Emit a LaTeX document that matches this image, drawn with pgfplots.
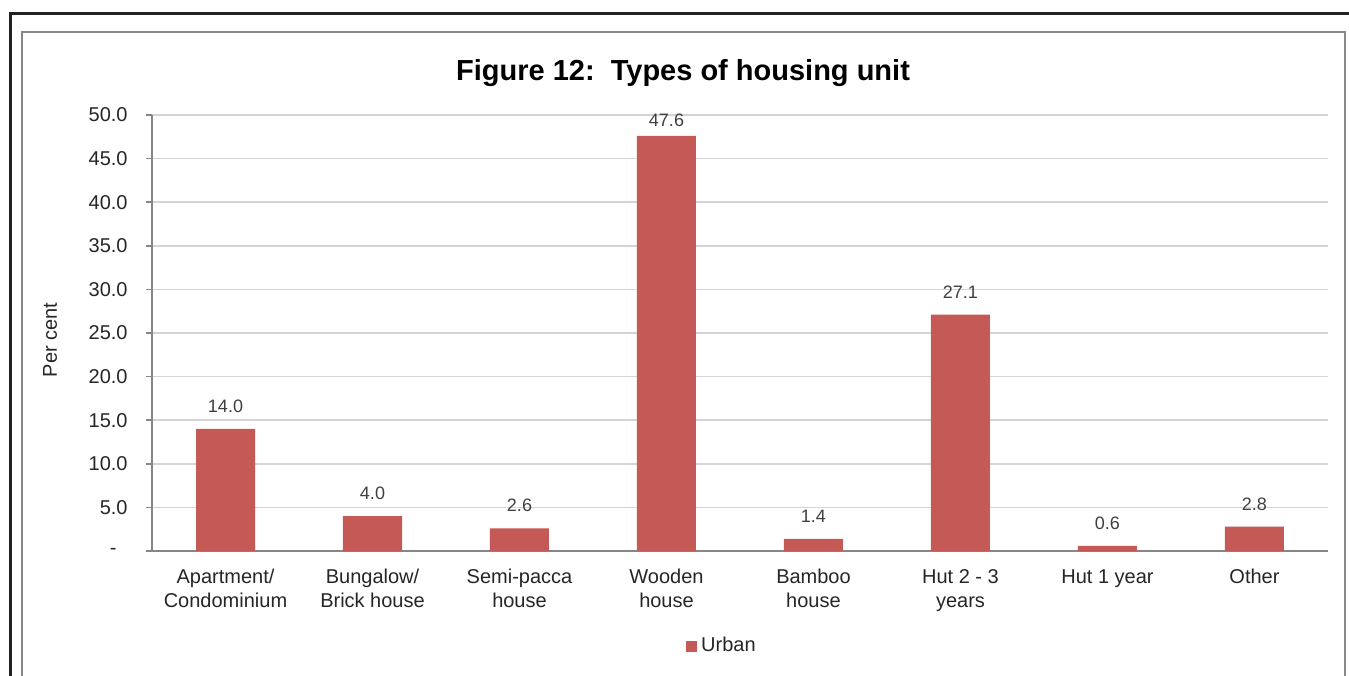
\documentclass[border=0pt]{standalone}
\usepackage{fontspec}
\setmainfont{Liberation Sans}
\usepackage{pgfplots}
\pgfplotsset{compat=1.18}
\usepackage{pgfplotstable}
\definecolor{barred}{RGB}{197,89,86}
\definecolor{axgray}{RGB}{134,134,134}
\definecolor{gridgray}{RGB}{212,212,212}
\definecolor{framegray}{RGB}{136,136,136}
\definecolor{txt}{RGB}{38,38,38}
\definecolor{lbl}{RGB}{64,64,64}

\pgfplotstableread{
x y s
0 14.0 8
1 4.0 8
2 2.6 8
3 47.6 4.5
4 1.4 8
5 27.1 8
6 0.6 8
7 2.8 8
}\housing

\begin{document}
\begin{tikzpicture}
\useasboundingbox (0pt,0pt) rectangle (674.5pt,337.5pt);
\clip (0pt,0pt) rectangle (674.5pt,337.5pt);
\fill[white] (0pt,0pt) rectangle (674.5pt,337.5pt);
\draw[line width=1.5pt, color={rgb,255:red,34;green,34;blue,34}] (5pt,-5pt) -- (5pt,330.5pt) -- (680pt,330.5pt);
\draw[line width=1pt, framegray] (11.15pt,-5pt) -- (11.15pt,321.25pt) -- (672.5pt,321.25pt) -- (672.5pt,-5pt);
\node[font=\bfseries\fontsize{14.5}{17}\selectfont, anchor=base, inner sep=0pt] at (341.5pt,297pt) {Figure 12:\ \ Types of housing unit};
\begin{axis}[
  at={(76pt,62pt)}, anchor=south west,
  width=588pt, height=218pt, scale only axis,
  xmin=-0.5, xmax=7.5, ymin=0, ymax=50,
  ybar, bar width=29.5pt,
  axis x line*=bottom, axis y line*=left,
  axis line style={-, draw=axgray, line width=0.9pt},
  ytick={0,5,...,50},
  yticklabels={{-\rule{5.5pt}{0pt}},5.0,10.0,15.0,20.0,25.0,30.0,35.0,40.0,45.0,50.0},
  ymajorgrids, grid style={gridgray, line width=0.8pt},
  tick align=outside, major tick length=3pt,
  y tick style={axgray, line width=0.8pt},
  x tick style={draw=none},
  xtick={0,...,7},
  xticklabels={Apartment/\\Condominium, Bungalow/\\Brick house, Semi-pacca\\house, Wooden\\house, Bamboo\\house, Hut 2 - 3\\years, Hut 1 year, Other},
  xticklabel style={align=center, font=\fontsize{10}{12}\selectfont, text=txt, inner sep=0pt, yshift=-6pt},
  yticklabel style={font=\fontsize{10}{12}\selectfont, text=txt, inner sep=0pt, xshift=-9pt},
  ylabel={Per cent},
  ylabel style={at={(axis description cs:-0.0867,0.484)}, anchor=center, font=\fontsize{10}{12}\selectfont, text=txt},
  legend style={at={(axis description cs:0.4855,-0.218)}, anchor=center, draw=none, font=\fontsize{10}{12}\selectfont, text=txt},
  legend image code/.code={\fill[barred] (0pt,-2.75pt) rectangle (5.5pt,2.75pt);},
  /pgf/number format/assume math mode=true,
  clip=false,
  visualization depends on={\thisrow{s}\as\myshift},
  nodes near coords={\pgfmathprintnumber[fixed,fixed zerofill,precision=1]{\pgfplotspointmeta}},
  every node near coord/.append style={font=\fontsize{9}{11}\selectfont, text=lbl, inner sep=0pt, anchor=south, yshift=\myshift pt},
]
\addplot[fill=barred, draw=none] table[x=x, y=y] {\housing};
\addlegendentry{Urban}
\end{axis}
\end{tikzpicture}
\end{document}
